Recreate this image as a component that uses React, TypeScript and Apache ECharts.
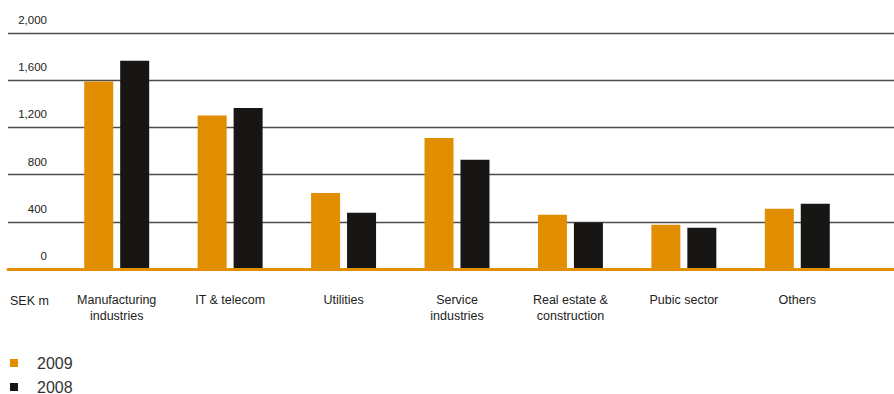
import React, { useEffect, useRef } from "react";
import * as echarts from "echarts";

const categories = [
  "Manufacturing\nindustries",
  "IT & telecom",
  "Utilities",
  "Service\nindustries",
  "Real estate &\nconstruction",
  "Pubic sector",
  "Others",
];
const values2009 = [1590, 1300, 645, 1110, 460, 375, 510];
const values2008 = [1765, 1365, 477, 925, 395, 350, 552];
const yTicks = { min: 0, max: 2000, interval: 400 };
const unitLabel = "SEK m";

const ORANGE = "#E18E00";
const BLACK = "#171614";
const FONT = "Liberation Sans, Arial, sans-serif";

export default function App() {
  const ref = useRef<HTMLDivElement>(null);
  useEffect(() => {
    if (!ref.current) return;
    const chart = echarts.init(ref.current, undefined, { renderer: "svg" });
    chart.setOption({
      animation: false,
      textStyle: { fontFamily: FONT },
      grid: [
        { left: 8, right: 0, top: 33, bottom: 125 },
        { left: 60, right: 40, top: 33, bottom: 125 },
      ],
      xAxis: [
        {
          gridIndex: 0,
          type: "value",
          min: 0,
          max: 1,
          z: 3,
          axisLine: { show: true, lineStyle: { color: ORANGE, width: 3 } },
          axisTick: { show: false },
          axisLabel: { show: false },
          splitLine: { show: false },
        },
        {
          gridIndex: 1,
          type: "category",
          data: categories,
          axisLine: { show: false },
          axisTick: { show: false },
          axisLabel: {
            color: "#222",
            fontSize: 12.5,
            lineHeight: 16,
            margin: 23,
            fontFamily: FONT,
          },
        },
      ],
      yAxis: [
        {
          gridIndex: 0,
          type: "value",
          min: yTicks.min,
          max: yTicks.max,
          interval: yTicks.interval,
          axisLine: { show: false },
          axisTick: { show: false },
          axisLabel: {
            inside: true,
            align: "right",
            verticalAlign: "bottom",
            margin: 39,
            padding: [0, 0, 7, 0],
            color: "#222",
            fontSize: 11.5,
            fontFamily: FONT,
            formatter: (v: number) => v.toLocaleString("en-US"),
          },
          splitLine: { show: true, lineStyle: { color: "#4d4d4d", width: 1.3 } },
        },
        {
          gridIndex: 1,
          type: "value",
          min: yTicks.min,
          max: yTicks.max,
          interval: yTicks.interval,
          show: false,
          splitLine: { show: false },
        },
      ],
      legend: {
        orient: "vertical",
        left: 10,
        top: 354,
        height: 60,
        padding: 0,
        icon: "rect",
        itemWidth: 8,
        itemHeight: 8,
        itemGap: 6,
        textStyle: {
          color: "#333",
          fontSize: 16,
          lineHeight: 18,
          fontFamily: FONT,
          padding: [0, 0, 0, 14],
        },
        data: ["2009", "2008"],
      },
      graphic: [
        {
          type: "text",
          left: 10,
          top: 294,
          style: { text: unitLabel, fill: "#222", font: `12.5px ${FONT}` },
        },
      ],
      series: [
        {
          name: "2009",
          type: "bar",
          xAxisIndex: 1,
          yAxisIndex: 1,
          data: values2009,
          barWidth: 29,
          barGap: "24%",
          itemStyle: { color: ORANGE },
        },
        {
          name: "2008",
          type: "bar",
          xAxisIndex: 1,
          yAxisIndex: 1,
          data: values2008,
          barWidth: 29,
          barGap: "24%",
          itemStyle: { color: BLACK },
        },
      ],
    });
    return () => chart.dispose();
  }, []);
  return (
    <div
      ref={ref}
      style={{ position: "absolute", left: 0, top: 0, width: 894, height: 394 }}
    />
  );
}
